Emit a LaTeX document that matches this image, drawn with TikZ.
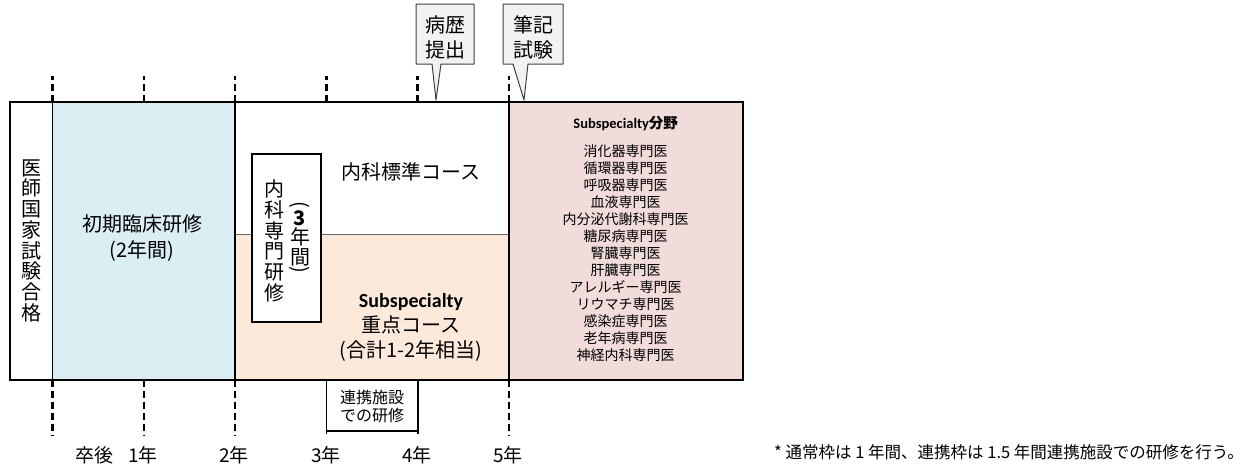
\documentclass[tikz,border=0pt]{standalone}
\usepackage{fontspec}
\usepackage{graphicx}
\setmainfont{Noto Sans CJK JP}
\newfontfamily\calibri{Carlito}
\usetikzlibrary{positioning}
\definecolor{initialblue}{HTML}{DAEEF3}
\definecolor{courseorange}{HTML}{FDE9D9}
\definecolor{subpink}{HTML}{F2DCDB}
\definecolor{calloutgray}{HTML}{F2F2F2}
\tikzset{
	frame/.style={draw, line width=2pt},
	divider/.style={draw, line width=1.5pt},
	yeartick/.style={draw, line width=2.5pt, dash pattern=on 7pt off 4pt},
	bracket/.style={draw, line width=1.8pt},
	callout/.style={draw=black!75, line width=1pt, fill=calloutgray, line join=round},
	label/.style={font=\fontsize{20pt}{26pt}\selectfont, align=center, inner sep=0pt},
	vtext/.style={font=\fontsize{20pt}{20.7pt}\selectfont, align=center, inner sep=0pt},
	small/.style={font=\fontsize{14pt}{17pt}\selectfont, align=center, inner sep=0pt},
	year/.style={font=\fontsize{19pt}{19pt}\selectfont, inner sep=0pt}
}

\begin{document}
\begin{tikzpicture}[x=1pt, y=-1pt]
\useasboundingbox (0,0) rectangle (1252,466);

% year positions on the top and bottom edge
\coordinate (top0) at (52.5,101.5);
\coordinate (top1) at (143.8,101.5);
\coordinate (top2) at (235.1,101.5);
\coordinate (top3) at (326.4,101.5);
\coordinate (top4) at (417.7,101.5);
\coordinate (top5) at (509,101.5);
\coordinate (bot0) at (52.5,379.5);
\coordinate (bot1) at (143.8,379.5);
\coordinate (bot2) at (235.1,379.5);
\coordinate (bot3) at (326.4,379.5);
\coordinate (bot4) at (417.7,379.5);
\coordinate (bot5) at (509,379.5);

% areas
\fill[white] (9.5,101.5) rectangle (bot0);
\fill[initialblue] (top0) rectangle (bot2);
\fill[white] (top2) rectangle (509,234);
\fill[courseorange] (235.1,234) rectangle (bot5);
\fill[subpink] (top5) rectangle (742.5,379.5);
\draw[black!60, line width=0.8pt] (235.1,234) -- (509,234);
\draw[divider] (top0) -- (bot0);
\draw[divider] (top2) -- (bot2);
\draw[divider] (top5) -- (bot5);
\draw[frame] (9.5,101.5) rectangle (742.5,379.5);

% dashed year ticks
\draw[yeartick] (top0) -- ++(0,-25.5);
\draw[yeartick] (top1) -- ++(0,-25.5);
\draw[yeartick] (top2) -- ++(0,-25.5);
\draw[yeartick] (top3) -- ++(0,-25.5);
\draw[yeartick] (top4) -- ++(0,-25.5);
\draw[yeartick] (top5) -- ++(0,-25.5);
\draw[yeartick] (bot0) -- ++(0,55.5);
\draw[yeartick] (bot1) -- ++(0,55.5);
\draw[yeartick] (bot2) -- ++(0,55.5);
\draw[yeartick] (bot5) -- ++(0,55.5);

% texts in the areas
\node[vtext] (kokushi) at (31.7,240.7) {医\\師\\国\\家\\試\\験\\合\\格};
\node[label] (shoki) at (142,238.4) {初期臨床研修\\(2年間)};
\node[label] (hyojun) at (411,172) {内科標準コース};
\node[label, font=\fontsize{20pt}{25pt}\selectfont] (juten) at (411,327)
	{{\calibri\bfseries Subspecialty}\\重点コース\\(合計1-2年相当)};

\node[draw, line width=2pt, fill=white, minimum width=69pt, minimum height=167.7pt, inner sep=0pt] (senmon) at (286.2,237.9) {};
\node[vtext] (senmontext) at (274,241) {内\\科\\専\\門\\研\\修};
\node[vtext] (paren1) at (300,205) {\rotatebox{-90}{(}};
\node[vtext] (three) at (300,218.5) {\bfseries 3};
\node[vtext] (nen) at (300,237) {年};
\node[vtext] (kan) at (300,257.5) {間};
\node[vtext] (paren2) at (300,270) {\rotatebox{-90}{)}};

\node[font=\fontsize{14.5pt}{14.5pt}\selectfont\bfseries, inner sep=0pt] (subtitle) at (625.7,123)
	{{\calibri Subspecialty}分野};
\node[small] (subfield) at (625.7,253)
	{消化器専門医\\循環器専門医\\呼吸器専門医\\血液専門医\\内分泌代謝科専門医\\糖尿病専門医\\腎臓専門医\\肝臓専門医\\アレルギー専門医\\リウマチ専門医\\感染症専門医\\老年病専門医\\神経内科専門医};

% callouts
\draw[callout] (416,4) -- (474,4) -- (474,64) -- (441,64) -- (436,100) -- (432,64) -- (416,64) -- cycle;
\node[label, font=\fontsize{20pt}{25pt}\selectfont] (byoreki) at (445,37.5) {病歴\\提出};
\draw[callout] (503,4) -- (563,4) -- (563,64) -- (528,64) -- (524,100) -- (513,64) -- (503,64) -- cycle;
\node[label, font=\fontsize{20pt}{25pt}\selectfont] (hikki) at (533,37.5) {筆記\\試験};

% training at partner facility
\draw[bracket] (bot3) -- ++(0,54.5);
\draw[bracket] (bot4) -- ++(0,54.5);
\draw[bracket] (326.4,431) -- (417.7,431);
\node[small, font=\fontsize{16pt}{17.5pt}\selectfont] (renkei) at (372,406.5) {連携施設\\での研修};

% year labels
\node[year] (sotsugo) at (94.5,455) {卒後};
\node[year] (year1) at (143,455) {1年};
\node[year] (year2) at (234,455) {2年};
\node[year] (year3) at (326,455) {3年};
\node[year] (year4) at (417,455) {4年};
\node[year] (year5) at (508,455) {5年};

\node[font=\fontsize{16.5pt}{16.5pt}\selectfont, inner sep=0pt, anchor=west] (note) at (774,452)
	{* 通常枠は 1 年間、連携枠は 1.5 年間連携施設での研修を行う。};

\end{tikzpicture}
\end{document}
